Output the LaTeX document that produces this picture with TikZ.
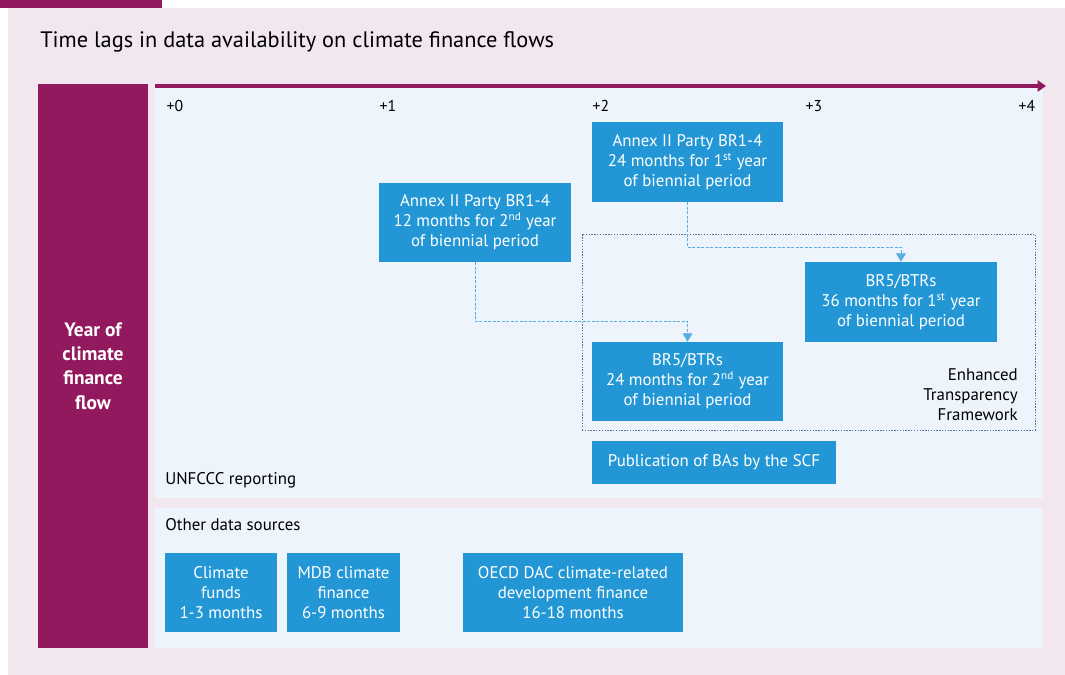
\documentclass[tikz,border=0pt]{standalone}
\usepackage{fontspec}
\setmainfont{PT Sans}
\usetikzlibrary{arrows.meta}
\definecolor{ecpurple}{HTML}{93195E}
\definecolor{ecpink}{HTML}{F2E6EF}
\definecolor{panelblue}{HTML}{EDF4FC}
\definecolor{boxblue}{HTML}{2397D5}
\definecolor{linkblue}{HTML}{5AAEE2}
\definecolor{etfgrey}{HTML}{50749E}
\tikzset{boxwh/.style 2 args = {minimum width = #1*0.025cm, minimum height = #2*0.025cm}}
\tikzset{lagbox/.style = {fill = boxblue, text = white, align = center, inner sep = 0pt, font = \fontsize{12}{14.2}\selectfont}}
\tikzset{panel/.style = {fill = panelblue, inner sep = 0pt}}
\tikzset{label/.style = {font = \fontsize{12}{14.2}\selectfont, inner sep = 0pt}}
\tikzset{link/.style = {draw = linkblue, dash pattern = on 2pt off 1.2pt, -{Triangle[width = 7pt, length = 6pt]}}}
\tikzset{etfline/.style = {draw = etfgrey, dash pattern = on 1pt off 1pt}}

\begin{document}
\begin{tikzpicture}[x = 0.025cm, y = -0.025cm]
	\useasboundingbox (0, 0) rectangle (1065, 675);
	\fill[ecpink] (8, 8) rectangle (1065, 675);
	\fill[ecpurple] (0, 0) rectangle (162, 8);

	\node[anchor = west, inner sep = 0pt, font = \fontsize{15.9}{18}\selectfont] (title) at (40, 42) {Time lags in data availability on climate finance flows};

	\node[fill = ecpurple, boxwh = {110}{564}, inner sep = 0pt, text = white, align = center,
		font = \bfseries\fontsize{13.8}{17.4}\selectfont] (year) at (93, 366) {Year of\\climate\\finance\\flow};
	\node[panel, boxwh = {888}{410}] (unfccc) at (599, 293) {};
	\node[panel, boxwh = {888}{140}] (other) at (599, 578) {};

	\coordinate (axisstart) at (155, 86);
	\coordinate (axisend) at (1046, 86);
	\draw[ecpurple, line width = 2.2pt, -{Triangle[width = 8pt, length = 6pt]}] (axisstart) -- (axisend);
	\foreach \i in {0, ..., 4}
		\node[font = \fontsize{11.2}{12}\selectfont, inner sep = 0pt] (tick\i) at (175 + 213*\i, 106) {+\i};

	\node[etfline, boxwh = {453}{196}, inner sep = 0pt] (etf) at (808.5, 332) {};
	\node[label, anchor = east, align = right] (etftext) at (1018, 395) {Enhanced\\Transparency\\Framework};

	\node[lagbox, boxwh = {191}{80}] (a24) at (687.5, 162) {Annex II Party BR1-4\\24 months for 1\textsuperscript{st} year\\of biennial period};
	\node[lagbox, boxwh = {192}{79}] (a12) at (475, 222.5) {Annex II Party BR1-4\\12 months for 2\textsuperscript{nd} year\\of biennial period};
	\node[lagbox, boxwh = {192}{80}] (b36) at (901, 302) {BR5/BTRs\\36 months for 1\textsuperscript{st} year\\of biennial period};
	\node[lagbox, boxwh = {191}{79}] (b24) at (687.5, 381.5) {BR5/BTRs\\24 months for 2\textsuperscript{nd} year\\of biennial period};
	\node[lagbox, boxwh = {244}{43}] (pub) at (714, 462.5) {Publication of BAs by the SCF};

	\coordinate (k1) at (687.5, 321);
	\coordinate (k2) at (901, 247);
	\draw[link] (a12.south) |- (k1) -- (b24.north);
	\draw[link] (a24.south) |- (k2) -- (b36.north);

	\node[label, anchor = west] (unfccctext) at (165, 480) {UNFCCC reporting};
	\node[label, anchor = west] (othertext) at (165, 525) {Other data sources};

	\node[lagbox, boxwh = {112}{79}] (cf) at (221, 592.5) {Climate\\funds\\1-3 months};
	\node[lagbox, boxwh = {113}{79}] (mdb) at (343.5, 592.5) {MDB climate\\finance\\6-9 months};
	\node[lagbox, boxwh = {220}{79}] (oecd) at (573, 592.5) {OECD DAC climate-related\\development finance\\16-18 months};
\end{tikzpicture}
\end{document}
